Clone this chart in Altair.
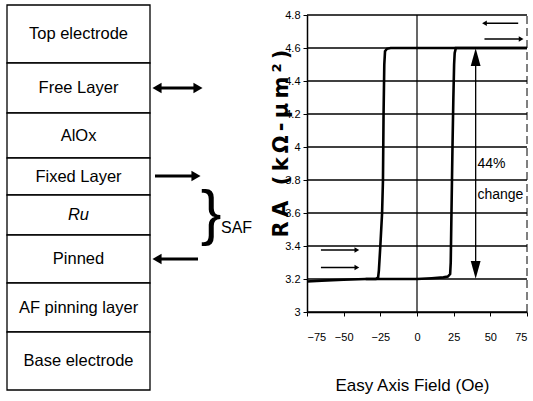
import altair as alt
import pandas as pd

W, H = 533, 401
FONT = "Liberation Sans, Arial, sans-serif"

# ---------------- data ----------------
LAYERS = ["Top electrode", "Free Layer", "AlOx", "Fixed Layer", "Ru",
          "Pinned", "AF pinning layer", "Base electrode"]
LAYER_EDGES = [5, 63, 113, 158, 195, 235, 283, 332, 390]
BOX_LEFT, BOX_RIGHT = 7, 150

# magnetization arrows beside the stack (y, tail x, head x)
MAG_Y = [88, 88, 176, 259]
MAG_TAIL = [178, 178, 155, 198]
MAG_HEAD = [198, 157, 196, 157]

# hysteresis loop
UP_FIELD = [-75, -65, -50, -35, -26, -10, 0, 10, 18, 21, 22.6, 23.0, 23.5, 24.2, 24.8, 25.3, 25.7, 26.5, 35, 50, 75]
UP_RA = [3.185, 3.19, 3.195, 3.2, 3.2, 3.2, 3.2, 3.205, 3.21, 3.215, 3.23, 3.3, 3.6, 4.0, 4.3, 4.5, 4.57, 4.6, 4.6, 4.6, 4.6]
DOWN_FIELD = [75, 50, 25, 0, -18, -20.5, -21.8, -22.3, -22.8, -23.2, -23.8, -25.0, -26.0, -26.5, -28, -35]
DOWN_RA = [4.6, 4.6, 4.6, 4.6, 4.6, 4.595, 4.58, 4.5, 4.2, 3.8, 3.6, 3.4, 3.25, 3.21, 3.2, 3.2]

X_TICKS = [-75, -50, -25, 0, 25, 50, 75]
Y_TICKS = [3.0, 3.2, 3.4, 3.6, 3.8, 4.0, 4.2, 4.4, 4.6, 4.8]

# sweep-direction arrows in the plot (ra, tail field, head field)
SWEEP_RA = [4.75, 4.655, 3.376, 3.27]
SWEEP_TAIL = [69, 46, -65.5, -65.5]
SWEEP_HEAD = [46, 71, -41, -41]

CHANGE_FIELD = 40
CHANGE_LOW, CHANGE_HIGH = 3.2, 4.6
CHANGE_TEXT = ["44%", "change"]
CHANGE_TEXT_RA = [3.90, 3.71]

Y_TITLE = "R\u2009A\u2009 \u2009(\u2009k\u2009Ω\u2009-\u2009μ\u2009m\u2009²\u2009)"

# ---------------- scales ----------------
X_DOM, X_RANGE = [-75, 75], [307, 527]
Y_DOM, Y_RANGE = [3.0, 4.8], [312, 15]


def cx(f, axis=None):
    return alt.X(f, type="quantitative", scale=alt.Scale(domain=X_DOM, range=X_RANGE), axis=axis)


def cy(f, axis=None):
    return alt.Y(f, type="quantitative", scale=alt.Scale(domain=Y_DOM, range=Y_RANGE), axis=axis)


def dx(f):
    return alt.X(f, type="quantitative", scale=alt.Scale(domain=[0, W], range=[0, W]), axis=None)


def dy(f):
    return alt.Y(f, type="quantitative", scale=alt.Scale(domain=[0, H], range=[0, H]), axis=None)


# ---------------- diagram ----------------
boxes = pd.DataFrame({
    "name": LAYERS,
    "y0": LAYER_EDGES[:-1],
    "y1": LAYER_EDGES[1:],
})
boxes["x0"] = BOX_LEFT
boxes["x1"] = BOX_RIGHT
boxes["ym"] = (boxes["y0"] + boxes["y1"]) / 2
boxes["xm"] = (BOX_LEFT + BOX_RIGHT) / 2

rects = alt.Chart(boxes).mark_rect(fill="white", stroke="black", strokeWidth=1.3).encode(
    x=dx("x0"), x2="x1", y=dy("y0"), y2="y1")
names = alt.Chart(boxes).transform_filter("datum.name != 'Ru'").mark_text(
    font=FONT, fontSize=16.5, color="black", baseline="middle").encode(
    x=dx("xm"), y=dy("ym"), text="name:N")
ru = alt.Chart(boxes).transform_filter("datum.name == 'Ru'").mark_text(
    font=FONT, fontSize=16.5, fontStyle="italic", color="black", baseline="middle").encode(
    x=dx("xm"), y=dy("ym"), text="name:N")

mag = pd.DataFrame({"y": MAG_Y, "tail": MAG_TAIL, "head": MAG_HEAD})
mag["shape"] = ["triangle-right" if h > t else "triangle-left" for t, h in zip(MAG_TAIL, MAG_HEAD)]
mag_lines = alt.Chart(mag).mark_rule(color="black", strokeWidth=3).encode(
    x=dx("tail"), x2="head", y=dy("y"))
mag_heads = alt.Chart(mag).mark_point(filled=True, color="black", opacity=1, size=110).encode(
    x=dx("head"), y=dy("y"), shape=alt.Shape("shape:N", scale=None))

saf = pd.DataFrame({"t": ["}", "SAF"], "x": [211, 221], "y": [214, 228]})
brace = alt.Chart(saf).transform_filter("datum.t == '}'").mark_text(
    font=FONT, fontSize=62, color="black",
    baseline="middle", align="center").encode(x=dx("x"), y=dy("y"), text="t:N")
saf_t = alt.Chart(saf).transform_filter("datum.t == 'SAF'").mark_text(
    font=FONT, fontSize=16, color="black",
    baseline="middle", align="left").encode(x=dx("x"), y=dy("y"), text="t:N")

# ---------------- chart ----------------
grid = pd.DataFrame({"ra": Y_TICKS})
grid["x0"] = X_DOM[0]
grid["x1"] = X_DOM[1]
hgrid = alt.Chart(grid).mark_rule(color="black", strokeWidth=1.6).encode(
    x=cx("x0"), x2="x1", y=cy("ra"))

vl = pd.DataFrame({"f": [0], "y0": [Y_DOM[0]], "y1": [Y_DOM[1]]})
vgrid = alt.Chart(vl).mark_rule(color="black", strokeWidth=1.2).encode(
    x=cx("f"), y=cy("y0"), y2="y1")
vr = pd.DataFrame({"f": [X_DOM[1]], "y0": [Y_DOM[0]], "y1": [Y_DOM[1]]})
vright = alt.Chart(vr).mark_rule(color="black", strokeWidth=1, strokeDash=[8, 4]).encode(
    x=cx("f"), y=cy("y0"), y2="y1")

loop = pd.concat([
    pd.DataFrame({"branch": "up", "field": UP_FIELD, "ra": UP_RA, "i": range(len(UP_FIELD))}),
    pd.DataFrame({"branch": "down", "field": DOWN_FIELD, "ra": DOWN_RA, "i": range(len(DOWN_FIELD))}),
])
axis_font = dict(labelFont=FONT, labelFontSize=11, labelColor="black",
                 domainColor="black", tickColor="black", titleColor="black")
curve = alt.Chart(loop).mark_line(color="black", strokeWidth=2.6, interpolate="linear").encode(
    x=cx("field", axis=alt.Axis(values=X_TICKS, offset=-89, tickSize=4, labelPadding=15,
                                 domainWidth=1.5, grid=False, title="Easy Axis Field (Oe)",
                                 titleFont=FONT, titleFontSize=17, titleFontWeight="normal",
                                 titleBaseline="middle", titleY=73, titleX=412, **axis_font)),
    y=cy("ra", axis=alt.Axis(values=Y_TICKS, offset=-307, tickSize=4, labelPadding=3,
                              format="~g", domainWidth=1.5, grid=False, title=Y_TITLE,
                              titleFont="DejaVu Sans", titleFontSize=21, titleFontWeight="bold",
                              titleBaseline="middle", titleX=-26, titleY=143, titleAngle=-90,
                              **axis_font)),
    detail="branch:N", order="i:Q")

sw = pd.DataFrame({"ra": SWEEP_RA, "tail": SWEEP_TAIL, "head": SWEEP_HEAD})
sw["shape"] = ["triangle-right" if h > t else "triangle-left" for t, h in zip(SWEEP_TAIL, SWEEP_HEAD)]
sw_lines = alt.Chart(sw).mark_rule(color="black", strokeWidth=1.5).encode(
    x=cx("tail"), x2="head", y=cy("ra"))
sw_heads = alt.Chart(sw).mark_point(filled=True, color="black", opacity=1, size=30).encode(
    x=cx("head"), y=cy("ra"), shape=alt.Shape("shape:N", scale=None))

ch = pd.DataFrame({"f": [CHANGE_FIELD], "lo": [CHANGE_LOW + 0.03], "hi": [CHANGE_HIGH - 0.03]})
ch_line = alt.Chart(ch).mark_rule(color="black", strokeWidth=1.3).encode(
    x=cx("f"), y=cy("lo"), y2="hi")
ch_heads_df = pd.DataFrame({"f": [CHANGE_FIELD, CHANGE_FIELD],
                            "ra": [CHANGE_HIGH - 0.055, CHANGE_LOW + 0.055],
                            "ang": [0, 180]})
ch_heads = alt.Chart(ch_heads_df).mark_point(shape="M0,-1L0.55,1L-0.55,1Z", filled=True,
                                             color="black", opacity=1, size=320).encode(
    x=cx("f"), y=cy("ra"), angle=alt.Angle("ang:Q", scale=None))
ch_txt_df = pd.DataFrame({"t": CHANGE_TEXT, "ra": CHANGE_TEXT_RA, "f": [CHANGE_FIELD + 1.2] * 2})
ch_txt = alt.Chart(ch_txt_df).mark_text(font=FONT, fontSize=14, color="black",
                                        align="left", baseline="middle").encode(
    x=cx("f"), y=cy("ra"), text="t:N")

chart = alt.layer(
    rects, names, ru, mag_lines, mag_heads, brace, saf_t,
    hgrid, vgrid, vright, curve, sw_lines, sw_heads, ch_line, ch_heads, ch_txt,
).resolve_scale(x="independent", y="independent").properties(
    width=W, height=H, padding=0, autosize=alt.AutoSizeParams(type="none"),
    background="white",
).configure_view(stroke=None)

chart.save("out.html", embed_options={"renderer": "svg", "actions": False})
